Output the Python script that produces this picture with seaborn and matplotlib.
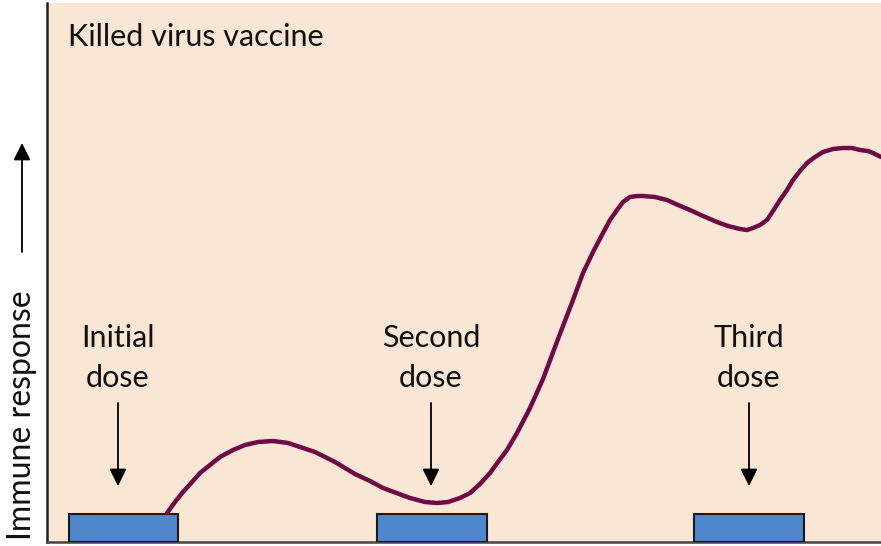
import numpy as np
import pandas as pd
import matplotlib
matplotlib.use("Agg")
import matplotlib.pyplot as plt
import seaborn as sns

# curve (time vs immune response, arbitrary units)
time = [120, 128, 136, 145, 153, 163, 173, 186, 198, 211, 226, 241, 253, 268, 288,
        308, 323, 336, 363, 378, 390, 401, 413, 423, 433, 443, 451, 460, 470, 483,
        496, 511, 526, 536, 546, 556, 563, 570, 576, 583, 590, 596, 608, 620, 631,
        643, 656, 670, 681, 693, 700, 706, 713, 720, 726, 733, 740, 746, 753, 760,
        768, 776, 786, 796, 805, 813, 821, 826, 834]
response = [29, 40, 50, 60, 69, 77, 85, 92, 97, 100, 101, 99, 95, 90, 80,
            68, 61, 54, 44, 40, 39, 40, 44, 49, 58, 69, 80, 92, 109, 134,
            163, 203, 242, 269, 290, 309, 322, 332, 340, 345, 346, 346, 345, 342, 337,
            332, 326, 320, 316, 313, 312, 314, 317, 322, 331, 342, 352, 362, 371, 379,
            385, 390, 393, 394, 394, 392, 391, 389, 385]

dose_names = ["Initial\ndose", "Second\ndose", "Third\ndose"]
dose_start = [22, 330, 647]
dose_length = [109, 110, 110]
dose_marker = [71, 384, 702]

curve = pd.DataFrame({"time": time, "response": response})

sns.set_style("white")
plt.rcParams["font.family"] = ["Lato", "DejaVu Sans"]

fig = plt.figure(figsize=(8.81, 5.46), dpi=100)
ax = fig.add_axes([47 / 881, 4 / 546, 834 / 881, 539 / 546])
ax.set_facecolor("#FAE6D4")

#dose boxes
ax.bar(dose_start, 28, width=dose_length, align="edge", color="#4F86CC",
       edgecolor="#1a1a1a", linewidth=1.5, zorder=3)

#response curve
sns.lineplot(data=curve, x="time", y="response", ax=ax, color="#6E0A45",
             linewidth=3.2, sort=False, zorder=4)
ax.lines[-1].set_solid_capstyle("round")
ax.lines[-1].set_solid_joinstyle("round")

#dose labels and arrows
for name, xm in zip(dose_names, dose_marker):
    ax.text(xm, 184, name, ha="center", va="center", fontsize=22,
            linespacing=1.5, color="#111111")
    ax.annotate("", xy=(xm, 56), xytext=(xm, 139),
                arrowprops=dict(arrowstyle="-|>", color="black", lw=1.3,
                                mutation_scale=26, shrinkA=0, shrinkB=0))

ax.text(21, 505, "Killed virus vaccine", ha="left", va="center", fontsize=22,
        color="#111111")

ax.set_xlim(0, 834)
ax.set_ylim(0, 539)
ax.set_xticks([])
ax.set_yticks([])
ax.set_xlabel("")
ax.set_ylabel("")
for side in ["top", "right"]:
    ax.spines[side].set_visible(False)
ax.spines["left"].set_color("#222222")
ax.spines["bottom"].set_color("#444444")
ax.spines["left"].set_linewidth(1.8)
ax.spines["bottom"].set_linewidth(1.8)

#y axis label with arrow
fig.text(22 / 881, 1 - 415 / 546, "Immune response", rotation=90, ha="center",
         va="center", fontsize=23, color="#111111")
fig.patches.append(matplotlib.patches.FancyArrowPatch(
    (22 / 881, 1 - 252 / 546), (22 / 881, 1 - 143 / 546),
    transform=fig.transFigure, arrowstyle="-|>", color="black", lw=1.3,
    mutation_scale=26, shrinkA=0, shrinkB=0))

fig.savefig("out.png", dpi=100, facecolor="white")
